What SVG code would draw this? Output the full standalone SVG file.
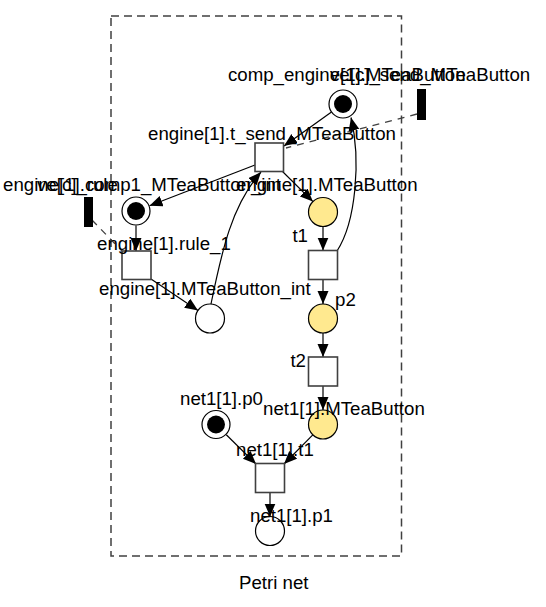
<svg xmlns="http://www.w3.org/2000/svg" width="546" height="607" viewBox="0 0 546 607">
<style>
text{font-family:"Liberation Sans",Arial,sans-serif;font-size:18.67px;fill:#000}
.pl{fill:#fff;stroke:#000;stroke-width:1.2}
.py{fill:#FFE98F;stroke:#000;stroke-width:1.2}
.tk{fill:#000}
.tr{fill:#fff;stroke:#404040;stroke-width:1.6}
.bar{fill:#000}
.arc{fill:none;stroke:#000;stroke-width:1.2;marker-end:url(#ah)}
.dash{fill:none;stroke:#404040;stroke-width:1.3;stroke-dasharray:7,6}
.box{fill:none;stroke:#404040;stroke-width:1.5;stroke-dasharray:8,5}
</style>
<defs>
<marker id="ah" markerUnits="userSpaceOnUse" markerWidth="14" markerHeight="12" refX="13" refY="5.5" orient="auto">
<path d="M0,0 L13,5.5 L0,11 z" fill="#000"/>
</marker>
</defs>
<rect width="546" height="607" fill="#fff"/>
<rect class="box" x="111" y="16" width="290.5" height="540"/>
<text x="239" y="589">Petri net</text>

<g id="connectors">
<path class="arc" d="M331.5,112 L284,146"/>
<path class="dash" d="M417,114 L286,148"/>
<path class="arc" d="M255,165 L149.5,205.8"/>
<path class="arc" d="M280,169 L312.9,201.6"/>
<path class="arc" d="M211,304 C222,250 232,205 261,172"/>
<path class="arc" d="M337,251 C356,222 361,160 351,117.5"/>
<path class="arc" d="M136,225.5 L136,251"/>
<path class="dash" d="M92,220 L122,251"/>
<path class="arc" d="M151,279 L198,310.4"/>
<path class="arc" d="M323,226.5 L323,250.5"/>
<path class="arc" d="M323,279.5 L323,304"/>
<path class="arc" d="M323,333 L323,357"/>
<path class="arc" d="M323,386 L323,410"/>
<path class="arc" d="M226.3,434.7 L256,464"/>
<path class="arc" d="M312.8,434.8 L284,464"/>
<path class="arc" d="M270,492.5 L270,516.5"/>
</g>

<g id="comp_engine_MTeaButton">
<circle class="pl" cx="343" cy="104" r="14"/>
<circle class="tk" cx="343" cy="104" r="9"/>
<text x="228" y="81">comp_engine[1].MTeaButton</text>
</g>
<g id="ve_send_MTeaButton">
<rect class="bar" x="417" y="89" width="9" height="31"/>
<text x="330" y="81">ve[c]_send_MTeaButton</text>
</g>
<g id="t_send_MTeaButton">
<rect class="tr" x="255" y="143" width="28.5" height="28.5"/>
<text x="148" y="140">engine[1].t_send_MTeaButton</text>
</g>
<g id="comp1_MTeaButton_int">
<circle class="pl" cx="136" cy="211" r="14"/>
<circle class="tk" cx="136" cy="211" r="9"/>
<text x="3" y="191">engine[1].comp1_MTeaButton_int</text>
</g>
<g id="ve_rule">
<rect class="bar" x="84" y="197" width="9" height="30"/>
<text x="37" y="191">ve[c]_rule</text>
</g>
<g id="engine_MTeaButton">
<circle class="py" cx="323" cy="212" r="14.5"/>
<text x="236" y="191">engine[1].MTeaButton</text>
</g>
<g id="rule_1">
<rect class="tr" x="122" y="251" width="29" height="28.5"/>
<text x="97" y="250">engine[1].rule_1</text>
</g>
<g id="t1">
<rect class="tr" x="308.5" y="250.5" width="29" height="29"/>
<text x="308" y="242" text-anchor="end">t1</text>
</g>
<g id="MTeaButton_int">
<circle class="pl" cx="210" cy="318.5" r="14.5"/>
<text x="99" y="295">engine[1].MTeaButton_int</text>
</g>
<g id="p2">
<circle class="py" cx="323" cy="318.5" r="14.5"/>
<text x="335" y="306">p2</text>
</g>
<g id="t2">
<rect class="tr" x="308.5" y="357" width="29" height="29"/>
<text x="306" y="367" text-anchor="end">t2</text>
</g>
<g id="net1_p0">
<circle class="pl" cx="216" cy="424.5" r="14"/>
<circle class="tk" cx="216" cy="424.5" r="9"/>
<text x="180" y="405">net1[1].p0</text>
</g>
<g id="net1_MTeaButton">
<circle class="py" cx="323" cy="424.5" r="14.5"/>
<text x="263" y="415">net1[1].MTeaButton</text>
</g>
<g id="net1_t1">
<rect class="tr" x="255.5" y="463.5" width="29" height="29"/>
<text x="236" y="456">net1[1].t1</text>
</g>
<g id="net1_p1">
<circle class="pl" cx="270" cy="531" r="14.5"/>
<text x="250" y="522">net1[1].p1</text>
</g>
</svg>
